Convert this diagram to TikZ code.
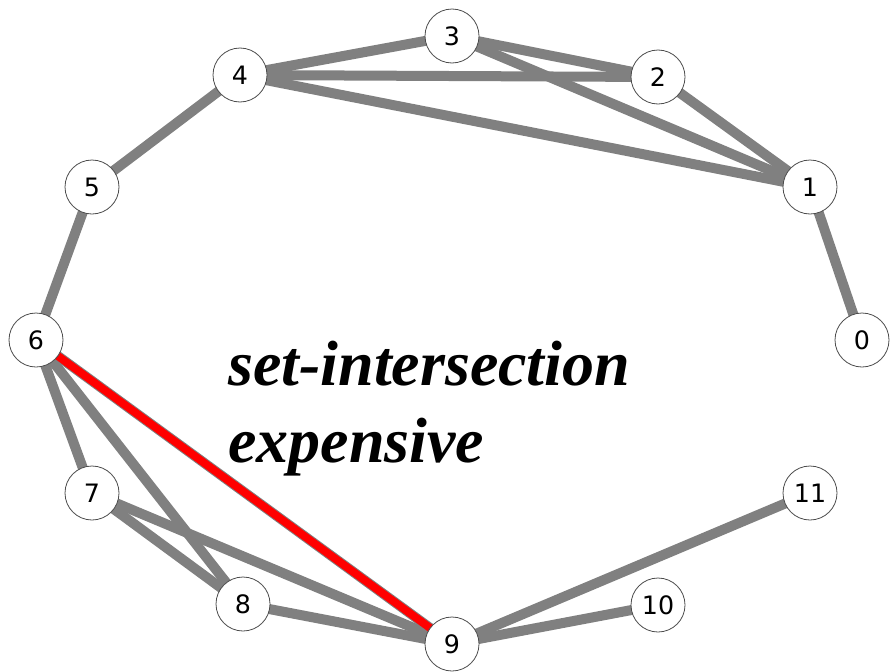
\documentclass[tikz,border=0pt]{standalone}
\usepackage{fontspec}
\setmainfont{DejaVu Sans}
\newfontfamily\labelfont{Liberation Serif}
\begin{document}
\begin{tikzpicture}[x=0.75pt, y=-0.75pt,
  vertex/.style={draw=black!70, line width=0.6pt, fill=white, circle, minimum size=40.5pt, inner sep=0pt, font=\fontsize{19}{21}\selectfont},
  edge/.style={draw=black!50, line width=7.5pt},
  hot/.style={draw=red, line width=6pt}]
\useasboundingbox (0,0) rectangle (891,671);
% vertices
\coordinate (p0) at (862,340);
\coordinate (p1) at (810,187);
\coordinate (p2) at (658,77);
\coordinate (p3) at (452,36);
\coordinate (p4) at (240,75);
\coordinate (p5) at (92,187);
\coordinate (p6) at (36,340);
\coordinate (p7) at (92,493);
\coordinate (p8) at (243,604);
\coordinate (p9) at (452,644);
\coordinate (p10) at (658,605);
\coordinate (p11) at (810,493);
% edges
\draw[edge] (p0) -- (p1);
\draw[edge] (p1) -- (p2);
\draw[edge] (p1) -- (p3);
\draw[edge] (p1) -- (p4);
\draw[edge] (p2) -- (p3);
\draw[edge] (p2) -- (p4);
\draw[edge] (p3) -- (p4);
\draw[edge] (p4) -- (p5);
\draw[edge] (p5) -- (p6);
\draw[edge] (p6) -- (p7);
\draw[edge] (p6) -- (p8);
\draw[edge] (p6) -- (p9);
\draw[edge] (p7) -- (p8);
\draw[edge] (p7) -- (p9);
\draw[edge] (p8) -- (p9);
\draw[edge] (p9) -- (p10);
\draw[edge] (p9) -- (p11);
\draw[hot] (p6) -- (p9);
% nodes on top
\foreach \i in {0,...,11}
  \node[vertex] (v\i) at (p\i) {\i};
\node[anchor=base west, align=left, inner sep=0pt, font=\labelfont\bfseries\itshape\fontsize{48}{57.6}\selectfont] (note) at (228,462) {set-intersection\\expensive};
\end{tikzpicture}
\end{document}
